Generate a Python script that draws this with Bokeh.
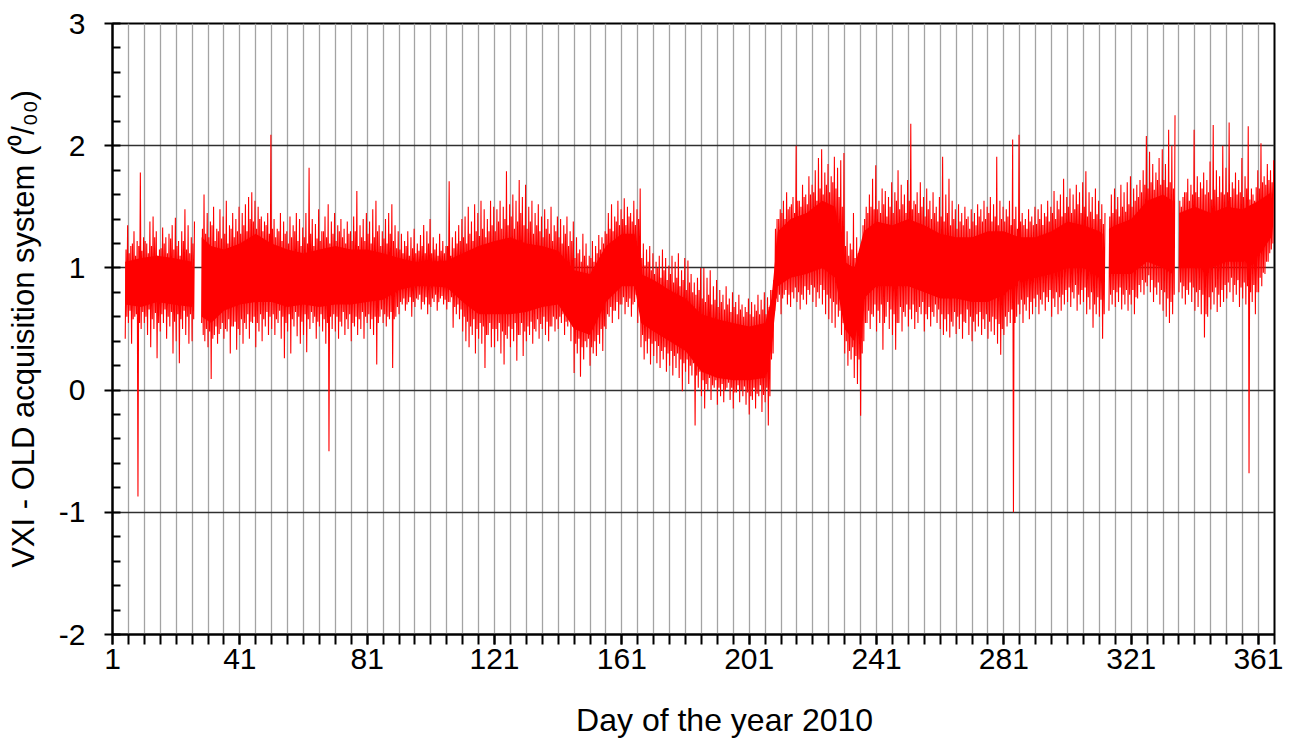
from bokeh.plotting import figure
from bokeh.models import FixedTicker, Range1d
from bokeh.embed import file_html
from bokeh.resources import INLINE

N = None

# ---------------- data ----------------
days = list(range(1, 367))

# outer upper tips per day
up = [
    N, N, N, N, 1.35, 1.18, 1.30, 1.22, 1.78, 1.25,
    1.20, 1.38, 1.42, 1.30, 1.15, 1.33, 1.25, 1.28, 1.35, 1.41,
    1.22, 1.30, 1.48, 1.35, 1.25, 1.38, N, N, 1.60, 1.45,
    1.38, 1.50, 1.32, 1.48, 1.42, 1.55, 1.35, 1.45, 1.40, 1.50,
    1.45, 1.52, 1.58, 1.62, 1.55, 1.50, 1.42, 1.38, 1.45, 2.09,
    1.40, 1.32, 1.45, 1.38, 1.30, 1.42, 1.35, 1.45, 1.40, 1.33,
    1.45, 1.82, 1.40, 1.36, 1.48, 1.30, 1.42, 1.52, 1.38, 1.45,
    1.35, 1.40, 1.32, 1.38, 1.30, 1.42, 1.63, 1.35, 1.40, 1.45,
    1.38, 1.48, 1.55, 1.35, 1.30, 1.40, 1.45, 1.52, 1.35, 1.30,
    1.28, 1.22, 1.30, 1.25, 1.32, 1.20, 1.27, 1.35, 1.30, 1.40,
    1.25, 1.20, 1.28, 1.22, 1.18, 1.71, 1.25, 1.30, 1.35, 1.40,
    1.42, 1.50, 1.38, 1.52, 1.45, 1.55, 1.48, 1.40, 1.55, 1.50,
    1.48, 1.55, 1.50, 1.79, 1.52, 1.60, 1.55, 1.72, 1.58, 1.68,
    1.50, 1.55, 1.45, 1.52, 1.42, 1.48, 1.40, 1.50, 1.35, 1.42,
    1.40, 1.35, 1.42, 1.30, 1.38, 1.25, 1.15, 1.28, 1.20, 1.10,
    1.22, 1.18, 1.27, 1.25, 1.30, 1.45, 1.52, 1.42, 1.55, 1.48,
    1.57, 1.50, 1.45, 1.55, 1.48, 1.65, 1.20, 1.15, 1.18, 1.12,
    1.05, 1.10, 1.15, 1.08, 1.02, 1.10, 1.05, 1.12, 0.98, 1.08,
    1.06, 0.95, 0.88, 0.92, 1.00, 1.00, 0.92, 0.98, 0.85, 0.90,
    0.82, 0.78, 0.85, 0.75, 0.80, 0.72, 0.78, 0.70, 0.68, 0.75,
    0.72, 0.70, 0.78, 0.74, 0.80, 0.76, 0.82, 0.90, 1.40, 1.48,
    1.55, 1.62, 1.50, 1.58, 2.00, 1.55, 1.68, 1.60, 1.75, 1.68,
    1.80, 1.90, 1.97, 1.78, 1.85, 1.75, 1.91, 1.82, 1.88, 1.94,
    1.30, 1.20, 1.45, 1.25, 1.15, 1.35, 1.50, 1.60, 1.73, 1.84,
    1.55, 1.65, 1.63, 1.58, 1.70, 1.62, 1.80, 1.68, 1.60, 1.72,
    2.18, 1.55, 1.62, 1.70, 1.58, 1.65, 1.55, 1.62, 1.50, 1.58,
    1.91, 1.60, 1.73, 1.55, 1.48, 1.52, 1.45, 1.50, 1.42, 1.48,
    1.45, 1.52, 1.48, 1.55, 1.50, 1.58, 1.52, 1.91, 1.55, 1.50,
    1.48, 1.55, 2.05, 1.50, 2.09, 1.45, 1.40, 1.48, 1.42, 1.50,
    1.48, 1.52, 1.45, 1.55, 1.50, 1.63, 1.55, 1.60, 1.73, 1.58,
    1.65, 1.60, 1.68, 1.62, 1.70, 1.79, 1.62, 1.58, 1.65, 1.55,
    1.52, 1.45, N, 1.60, 1.65, 1.58, 1.68, 1.62, 1.70, 1.75,
    1.65, 1.68, 1.72, 1.80, 2.08, 1.95, 1.85, 1.78, 1.90, 1.97,
    1.85, 2.13, 2.00, 2.25, N, 1.50, 1.62, 1.73, 1.68, 2.13,
    1.75, 1.70, 1.78, 1.72, 1.87, 2.17, 1.80, 1.75, 2.00, 1.82,
    2.19, 1.70, 1.78, 1.72, 1.90, 1.75, 2.16, 1.65, 1.55, 1.80,
    2.02, 1.75, 1.85, 1.80, 1.88, N,
]

# outer lower tips per day
dn = [
    N, N, N, N, 0.42, 0.55, 0.38, 0.60, -0.87, 0.50,
    0.55, 0.45, 0.35, 0.50, 0.26, 0.48, 0.55, 0.42, 0.52, 0.30,
    0.40, 0.22, 0.50, 0.45, 0.38, 0.40, N, N, 0.55, 0.40,
    0.35, 0.09, 0.45, 0.38, 0.50, 0.42, 0.48, 0.30, 0.52, 0.33,
    0.45, 0.38, 0.50, 0.42, 0.55, 0.35, 0.48, 0.40, 0.52, 0.45,
    0.50, 0.45, 0.55, 0.42, 0.26, 0.48, 0.30, 0.52, 0.44, 0.38,
    0.45, 0.31, 0.50, 0.55, 0.42, 0.52, 0.48, 0.38, -0.50, 0.50,
    0.48, 0.42, 0.52, 0.45, 0.50, 0.40, 0.52, 0.45, 0.50, 0.42,
    0.55, 0.50, 0.45, 0.21, 0.60, 0.55, 0.52, 0.58, 0.18, 0.60,
    0.62, 0.70, 0.65, 0.72, 0.60, 0.68, 0.74, 0.66, 0.70, 0.62,
    0.68, 0.72, 0.65, 0.75, 0.70, 0.66, 0.72, 0.51, 0.62, 0.58,
    0.48, 0.40, 0.35, 0.45, 0.30, 0.42, 0.38, 0.18, 0.45, 0.35,
    0.35, 0.40, 0.30, 0.21, 0.42, 0.35, 0.40, 0.24, 0.45, 0.28,
    0.40, 0.45, 0.38, 0.48, 0.42, 0.50, 0.45, 0.40, 0.52, 0.48,
    0.50, 0.55, 0.45, 0.52, 0.40, 0.14, 0.30, 0.11, 0.25, 0.35,
    0.20, 0.30, 0.28, 0.38, 0.32, 0.50, 0.60, 0.55, 0.65, 0.58,
    0.70, 0.62, 0.68, 0.60, 0.72, 0.55, 0.35, 0.25, 0.30, 0.21,
    0.28, 0.22, 0.18, 0.25, 0.15, 0.20, 0.12, 0.18, 0.10, -0.01,
    0.15, 0.05, 0.12, -0.29, 0.02, -0.05, -0.15, 0.00, -0.08, 0.02,
    -0.12, -0.05, -0.10, 0.02, -0.08, -0.15, -0.02, -0.10, -0.05, -0.12,
    -0.20, -0.08, -0.15, -0.05, -0.18, -0.10, -0.29, 0.25, 0.65, 0.72,
    0.62, 0.78, 0.70, 0.68, 0.75, 0.72, 0.66, 0.74, 0.70, 0.78,
    0.72, 0.68, 0.75, 0.70, 0.62, 0.58, 0.55, 0.51, 0.60, 0.45,
    0.30, 0.20, 0.25, 0.10, 0.05, -0.21, 0.40, 0.55, 0.50, 0.60,
    0.48, 0.55, 0.33, 0.60, 0.50, 0.45, 0.33, 0.55, 0.48, 0.60,
    0.52, 0.58, 0.50, 0.55, 0.62, 0.48, 0.58, 0.52, 0.60, 0.55,
    0.50, 0.45, 0.48, 0.43, 0.52, 0.46, 0.50, 0.42, 0.55, 0.45,
    0.40, 0.48, 0.52, 0.45, 0.50, 0.42, 0.48, 0.45, 0.38, 0.29,
    0.45, 0.52, 0.55, -1.00, 0.60, 0.62, 0.55, 0.65, 0.58, 0.62,
    0.68, 0.62, 0.70, 0.65, 0.72, 0.60, 0.68, 0.62, 0.65, 0.70,
    0.72, 0.68, 0.75, 0.65, 0.70, 0.72, 0.62, 0.66, 0.51, 0.62,
    0.60, 0.42, N, 0.65, 0.70, 0.68, 0.72, 0.66, 0.70, 0.65,
    0.70, 0.62, 0.75, 0.80, 0.78, 0.85, 0.80, 0.72, 0.78, 0.70,
    0.65, 0.60, 0.55, 0.62, N, 0.80, 0.75, 0.70, 0.78, 0.72,
    0.65, 0.68, 0.62, 0.43, 0.60, 0.66, 0.70, 0.64, 0.68, 0.72,
    0.75, 0.80, 0.72, 0.78, 0.68, 0.75, 0.70, -0.68, 0.72, 0.62,
    0.80, 0.85, 0.95, 1.05, 1.15, N,
]

# inner upper tips per day
up2 = [
    N, N, N, N, 1.15, 1.12, 1.20, 1.10, 1.18, 1.14,
    1.22, 1.12, 1.18, 1.25, 1.10, 1.16, 1.20, 1.12, 1.24, 1.15,
    1.18, 1.10, 1.22, 1.15, 1.12, 1.20, N, N, 1.32, 1.28,
    1.25, 1.35, 1.22, 1.30, 1.24, 1.28, 1.20, 1.32, 1.25, 1.30,
    1.28, 1.35, 1.30, 1.40, 1.38, 1.32, 1.40, 1.30, 1.35, 1.28,
    1.32, 1.25, 1.30, 1.22, 1.28, 1.20, 1.25, 1.30, 1.22, 1.18,
    1.25, 1.20, 1.28, 1.18, 1.24, 1.22, 1.30, 1.25, 1.20, 1.28,
    1.22, 1.30, 1.25, 1.20, 1.28, 1.22, 1.30, 1.18, 1.25, 1.22,
    1.28, 1.20, 1.25, 1.30, 1.18, 1.24, 1.20, 1.28, 1.22, 1.16,
    1.15, 1.12, 1.18, 1.10, 1.16, 1.12, 1.14, 1.18, 1.12, 1.20,
    1.12, 1.15, 1.10, 1.14, 1.12, 1.18, 1.10, 1.16, 1.20, 1.22,
    1.25, 1.20, 1.28, 1.22, 1.30, 1.26, 1.32, 1.25, 1.30, 1.35,
    1.30, 1.38, 1.32, 1.40, 1.35, 1.42, 1.32, 1.38, 1.45, 1.35,
    1.32, 1.38, 1.28, 1.35, 1.30, 1.25, 1.32, 1.28, 1.22, 1.30,
    1.25, 1.20, 1.28, 1.18, 1.22, 1.08, 1.12, 1.05, 1.10, 1.02,
    1.08, 1.05, 1.12, 1.15, 1.20, 1.28, 1.32, 1.30, 1.38, 1.35,
    1.40, 1.35, 1.42, 1.38, 1.35, 1.40, 1.08, 1.02, 1.05, 0.98,
    0.95, 1.00, 0.92, 0.98, 0.90, 0.95, 0.88, 0.92, 0.85, 0.90,
    0.82, 0.88, 0.80, 0.78, 0.82, 0.75, 0.72, 0.78, 0.70, 0.74,
    0.68, 0.72, 0.66, 0.70, 0.64, 0.68, 0.62, 0.66, 0.60, 0.64,
    0.62, 0.60, 0.65, 0.62, 0.66, 0.62, 0.68, 0.82, 1.32, 1.40,
    1.45, 1.40, 1.48, 1.52, 1.45, 1.55, 1.50, 1.58, 1.52, 1.60,
    1.62, 1.55, 1.65, 1.60, 1.68, 1.62, 1.70, 1.65, 1.58, 1.50,
    1.18, 1.10, 1.15, 1.08, 1.12, 1.20, 1.40, 1.45, 1.50, 1.48,
    1.48, 1.45, 1.52, 1.42, 1.50, 1.45, 1.55, 1.48, 1.52, 1.45,
    1.55, 1.48, 1.52, 1.45, 1.50, 1.42, 1.48, 1.40, 1.45, 1.38,
    1.42, 1.38, 1.45, 1.35, 1.40, 1.32, 1.38, 1.35, 1.40, 1.32,
    1.38, 1.35, 1.42, 1.38, 1.40, 1.45, 1.38, 1.42, 1.35, 1.40,
    1.38, 1.42, 1.35, 1.40, 1.32, 1.38, 1.35, 1.32, 1.38, 1.35,
    1.36, 1.40, 1.35, 1.42, 1.38, 1.45, 1.40, 1.48, 1.42, 1.45,
    1.50, 1.45, 1.48, 1.52, 1.45, 1.50, 1.42, 1.46, 1.40, 1.44,
    1.40, 1.36, N, 1.42, 1.45, 1.48, 1.42, 1.50, 1.46, 1.52,
    1.50, 1.55, 1.58, 1.62, 1.68, 1.65, 1.70, 1.64, 1.72, 1.68,
    1.72, 1.66, 1.70, 1.65, N, 1.55, 1.58, 1.62, 1.55, 1.60,
    1.62, 1.58, 1.65, 1.60, 1.62, 1.56, 1.64, 1.58, 1.62, 1.60,
    1.62, 1.58, 1.65, 1.60, 1.62, 1.58, 1.65, 1.56, 1.60, 1.66,
    1.65, 1.70, 1.68, 1.72, 1.70, N,
]

# inner lower tips per day
dn2 = [
    N, N, N, N, 0.60, 0.65, 0.58, 0.62, 0.55, 0.64,
    0.60, 0.66, 0.58, 0.63, 0.55, 0.62, 0.66, 0.60, 0.64, 0.56,
    0.62, 0.58, 0.65, 0.60, 0.62, 0.58, N, N, 0.45, 0.50,
    0.48, 0.42, 0.52, 0.46, 0.55, 0.50, 0.58, 0.52, 0.56, 0.50,
    0.58, 0.55, 0.62, 0.56, 0.60, 0.55, 0.62, 0.58, 0.64, 0.60,
    0.62, 0.58, 0.65, 0.60, 0.55, 0.62, 0.58, 0.64, 0.60, 0.56,
    0.62, 0.58, 0.64, 0.60, 0.56, 0.62, 0.58, 0.55, 0.60, 0.62,
    0.60, 0.56, 0.64, 0.58, 0.62, 0.55, 0.60, 0.58, 0.64, 0.60,
    0.62, 0.58, 0.60, 0.55, 0.66, 0.62, 0.60, 0.64, 0.58, 0.68,
    0.72, 0.75, 0.70, 0.76, 0.72, 0.75, 0.78, 0.72, 0.76, 0.70,
    0.75, 0.78, 0.72, 0.77, 0.74, 0.72, 0.76, 0.68, 0.70, 0.66,
    0.60, 0.56, 0.52, 0.58, 0.50, 0.55, 0.52, 0.45, 0.55, 0.50,
    0.50, 0.55, 0.48, 0.45, 0.52, 0.50, 0.55, 0.45, 0.55, 0.48,
    0.52, 0.56, 0.50, 0.58, 0.54, 0.60, 0.56, 0.52, 0.60, 0.58,
    0.60, 0.62, 0.56, 0.60, 0.52, 0.38, 0.42, 0.35, 0.40, 0.42,
    0.35, 0.40, 0.45, 0.50, 0.52, 0.62, 0.68, 0.65, 0.72, 0.70,
    0.76, 0.72, 0.75, 0.70, 0.78, 0.68, 0.45, 0.40, 0.42, 0.38,
    0.40, 0.36, 0.32, 0.35, 0.30, 0.32, 0.28, 0.30, 0.25, 0.22,
    0.25, 0.20, 0.22, 0.12, 0.15, 0.08, 0.05, 0.10, 0.04, 0.08,
    0.02, 0.05, 0.00, 0.06, 0.02, -0.02, 0.04, 0.00, 0.03, -0.02,
    -0.05, 0.02, -0.03, 0.04, -0.04, 0.02, -0.05, 0.30, 0.75, 0.78,
    0.75, 0.82, 0.78, 0.80, 0.84, 0.80, 0.78, 0.85, 0.82, 0.86,
    0.84, 0.80, 0.86, 0.82, 0.78, 0.75, 0.72, 0.70, 0.65, 0.55,
    0.40, 0.32, 0.35, 0.28, 0.25, 0.30, 0.55, 0.65, 0.62, 0.70,
    0.65, 0.70, 0.55, 0.72, 0.66, 0.62, 0.55, 0.68, 0.64, 0.70,
    0.66, 0.70, 0.64, 0.68, 0.72, 0.62, 0.68, 0.64, 0.70, 0.66,
    0.62, 0.58, 0.62, 0.56, 0.64, 0.60, 0.62, 0.56, 0.66, 0.60,
    0.56, 0.62, 0.64, 0.58, 0.62, 0.56, 0.60, 0.58, 0.54, 0.50,
    0.60, 0.64, 0.66, 0.55, 0.70, 0.74, 0.70, 0.76, 0.72, 0.75,
    0.78, 0.74, 0.80, 0.76, 0.82, 0.75, 0.80, 0.76, 0.78, 0.82,
    0.84, 0.80, 0.86, 0.78, 0.82, 0.84, 0.76, 0.80, 0.70, 0.76,
    0.74, 0.62, N, 0.78, 0.82, 0.80, 0.84, 0.78, 0.82, 0.78,
    0.82, 0.76, 0.86, 0.90, 0.88, 0.94, 0.90, 0.84, 0.88, 0.82,
    0.80, 0.75, 0.72, 0.78, N, 0.88, 0.85, 0.82, 0.88, 0.84,
    0.80, 0.82, 0.78, 0.62, 0.76, 0.80, 0.84, 0.78, 0.82, 0.86,
    0.88, 0.92, 0.86, 0.90, 0.84, 0.88, 0.85, 0.80, 0.86, 0.80,
    0.92, 0.96, 1.05, 1.12, 1.20, N,
]

# dense core band of the series
core_day = [5, 10, 15, 20, 26, 27, 29, 32, 36, 41, 46, 51, 56, 61, 66, 71, 76,
            81, 86, 91, 96, 101, 106, 111, 116, 121, 126, 131, 136, 141, 146,
            151, 156, 161, 165, 167, 171, 176, 181, 186, 191, 196, 201, 206,
            208, 210, 214, 219, 224, 228, 231, 234, 237, 241, 246, 251, 256,
            261, 266, 271, 276, 281, 286, 291, 296, 301, 306, 311, 312, 313,
            314, 316, 321, 326, 331, 334, 335, 336, 341, 346, 351, 356, 361, 365]
core_lo = [0.70, 0.68, 0.72, 0.70, 0.68, N, 0.60, 0.55, 0.65, 0.70, 0.72, 0.72,
           0.68, 0.70, 0.68, 0.70, 0.70, 0.72, 0.74, 0.82, 0.85, 0.85, 0.84,
           0.72, 0.62, 0.62, 0.62, 0.64, 0.68, 0.70, 0.50, 0.45, 0.72, 0.85,
           0.85, 0.55, 0.48, 0.40, 0.32, 0.15, 0.10, 0.08, 0.08, 0.10, 0.35,
           0.85, 0.92, 0.95, 1.00, 0.92, 0.50, 0.40, 0.75, 0.85, 0.85, 0.85,
           0.80, 0.75, 0.75, 0.72, 0.72, 0.78, 0.90, 0.92, 0.95, 1.00, 1.00,
           0.92, 0.90, N, 0.95, 0.95, 0.95, 1.05, 1.00, 0.95, N, 1.00, 1.00,
           1.00, 1.05, 1.05, 1.10, 1.25]
core_hi = [1.05, 1.08, 1.10, 1.08, 1.05, N, 1.25, 1.18, 1.15, 1.20, 1.28, 1.20,
           1.15, 1.12, 1.15, 1.18, 1.15, 1.15, 1.12, 1.08, 1.05, 1.05, 1.06,
           1.12, 1.18, 1.22, 1.25, 1.20, 1.18, 1.14, 0.98, 0.95, 1.18, 1.28,
           1.28, 0.95, 0.90, 0.82, 0.75, 0.62, 0.58, 0.55, 0.52, 0.55, 0.75,
           1.30, 1.40, 1.45, 1.55, 1.50, 1.05, 1.00, 1.30, 1.38, 1.35, 1.40,
           1.35, 1.28, 1.25, 1.25, 1.30, 1.30, 1.25, 1.25, 1.30, 1.38, 1.35,
           1.30, 1.28, N, 1.32, 1.35, 1.40, 1.55, 1.60, 1.55, N, 1.45, 1.50,
           1.45, 1.50, 1.48, 1.55, 1.62]

x_major = [1, 41, 81, 121, 161, 201, 241, 281, 321, 361]
x_minor = list(range(1, 367, 5))
x_grid = list(range(6, 367, 5))
y_major = [-2, -1, 0, 1, 2, 3]
y_labels = {-2: "-2", -1: "-1", 0: "0", 1: "1", 2: "2", 3: "3"}
y_minor = [round(-2 + 0.2 * i, 1) for i in range(26)]
y_grid = [-1, 0, 1, 2]

# ---------------- figure ----------------
FONT = "Liberation Sans"
p = figure(width=1283, height=745, x_range=Range1d(1, 366), y_range=Range1d(-2, 3),
           output_backend="svg", toolbar_location=None,
           min_border_left=112, min_border_right=9, min_border_top=23,
           min_border_bottom=111)
p.background_fill_color = "white"
p.border_fill_color = "white"
p.outline_line_color = "black"
p.outline_line_width = 2

p.xgrid.ticker = FixedTicker(ticks=x_grid)
p.xgrid.grid_line_color = "#a3a3a3"
p.xgrid.grid_line_width = 1.3
p.ygrid.ticker = FixedTicker(ticks=y_grid)
p.ygrid.grid_line_color = "#303030"
p.ygrid.grid_line_width = 1.3

# core band
segs = []
cx, cl, ch = [], [], []
for d, lo, hi in zip(core_day, core_lo, core_hi):
    if lo is None:
        if cx:
            segs.append((cx, cl, ch))
        cx, cl, ch = [], [], []
        continue
    cx.append(d); cl.append(lo); ch.append(hi)
if cx:
    segs.append((cx, cl, ch))
for sx, sl, sh in segs:
    p.varea(x=sx, y1=sl, y2=sh, fill_color="#ff0000")

# measured series: four read extremes per day
zx, zy = [], []
for d, a, b, c, e in zip(days, dn, up2, dn2, up):
    if a is None:
        zx.append(d); zy.append(float("nan"))
        continue
    zx += [d, d + 0.25, d + 0.5, d + 0.75]
    zy += [a, b, c, e]
p.line(zx, zy, line_color="#ff0000", line_width=1.1)

# axes
xa = p.xaxis[0]
xa.ticker = FixedTicker(ticks=x_major, minor_ticks=x_minor)
xa.major_tick_out = 10
xa.major_tick_in = 0
xa.minor_tick_out = 10
xa.minor_tick_in = 0
xa.axis_label = "\u00a0" * 7 + "Day of the year 2010"

ya = p.yaxis[0]
ya.ticker = FixedTicker(ticks=y_major, minor_ticks=y_minor)
ya.major_label_overrides = y_labels
ya.major_tick_out = 8
ya.major_tick_in = 0
ya.minor_tick_out = 0
ya.minor_tick_in = 8
ya.axis_label = "VXI - OLD acquisition system (\u2070/\u2080\u2080)"

for ax in (xa, ya):
    ax.axis_line_color = "black"
    ax.axis_line_width = 2
    ax.major_tick_line_color = "black"
    ax.major_tick_line_width = 2
    ax.minor_tick_line_color = "black"
    ax.minor_tick_line_width = 2
    ax.major_label_text_font = FONT
    ax.major_label_text_font_size = "30px"
    ax.major_label_text_color = "black"
    ax.axis_label_text_font = FONT
    ax.axis_label_text_font_style = "normal"
    ax.axis_label_text_color = "black"

xa.axis_label_text_font_size = "32px"
ya.axis_label_text_font_size = "31px"
xa.major_label_standoff = 4
xa.axis_label_standoff = 30
ya.major_label_standoff = 19
ya.axis_label_standoff = 15

open("out.html", "w").write(file_html(p, INLINE))
